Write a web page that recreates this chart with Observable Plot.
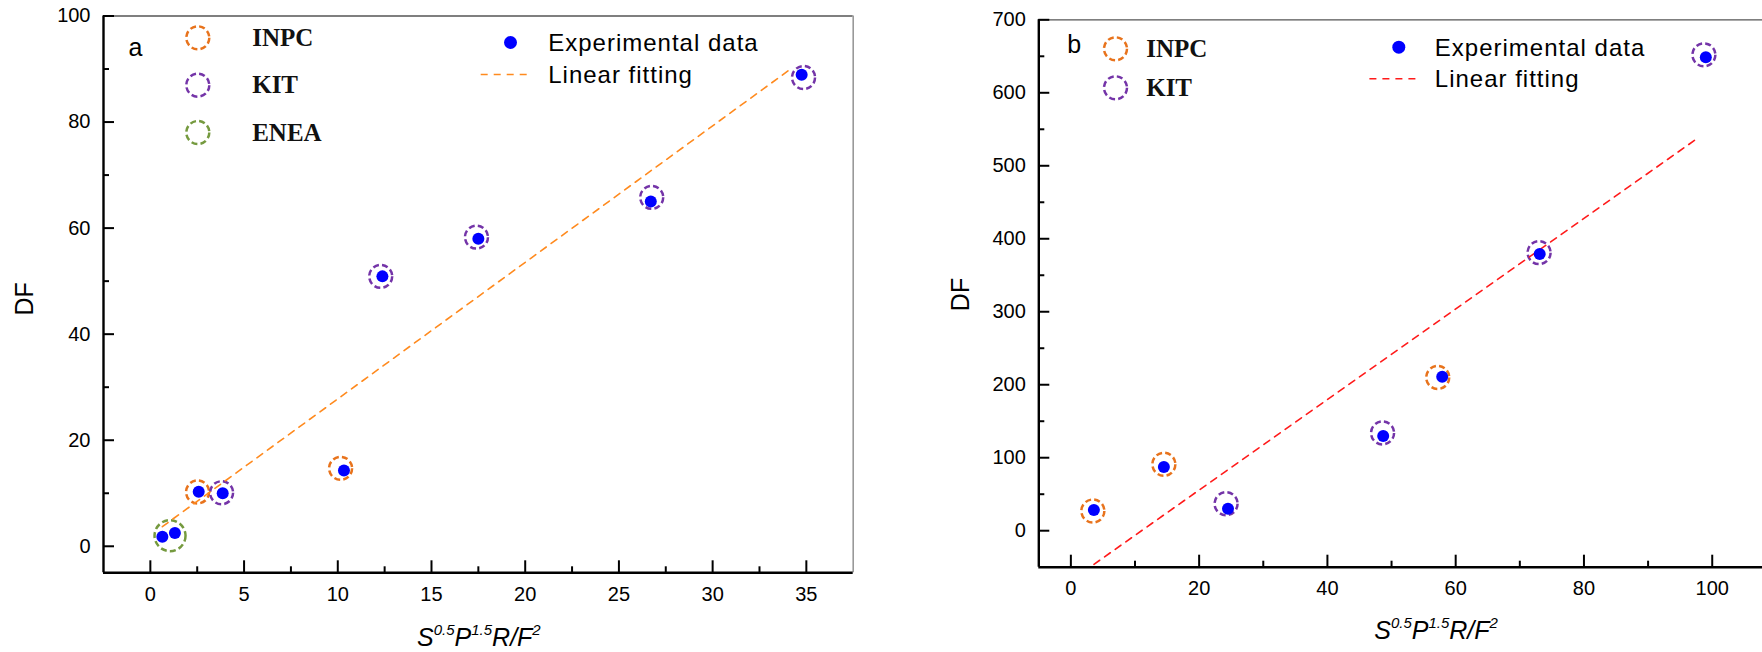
<!DOCTYPE html>
<html><head><meta charset="utf-8">
<script src="https://cdn.jsdelivr.net/npm/d3@7"></script>
<script src="https://cdn.jsdelivr.net/npm/@observablehq/plot@0.6"></script>
<style>
html,body{margin:0;padding:0;background:#fff;overflow:hidden;}
#wrap{position:relative;width:1762px;height:652px;overflow:hidden;background:#fff;}
.panel{position:absolute;top:0;}
.panel svg{max-width:none !important;}
</style></head><body>
<div id="wrap"><div id="pa" class="panel" style="left:0px;width:880px"></div><div id="pb" class="panel" style="left:880px;width:970px"></div></div>
<script>
// ---------- Panel a data ----------
const aExpX = [0.64, 1.31, 2.58, 3.86, 10.33, 12.38, 17.5, 26.7, 34.75];
const aExpY = [1.8, 2.5, 10.3, 10.0, 14.3, 50.9, 58.0, 65.0, 88.9];
const aRingLab = ["ENEA", "INPC", "KIT", "INPC", "KIT", "KIT", "KIT", "KIT"];
const aRingX = [1.05, 2.52, 3.8, 10.15, 12.29, 17.4, 26.75, 34.85];
const aRingY = [2.0, 10.25, 10.1, 14.7, 50.9, 58.3, 65.8, 88.4];
const aFitX = [0.64, 34.2];
const aFitY = [3.7, 90.1];
const aXTicks = [0, 5, 10, 15, 20, 25, 30, 35];
const aXMinor = [2.5, 7.5, 12.5, 17.5, 22.5, 27.5, 32.5];
const aYTicks = [0, 20, 40, 60, 80, 100];
const aYMinor = [10, 30, 50, 70, 90];
const aXDomain = [-2.5, 37.5];
const aYDomain = [-5, 100];
const aLegendLabs = ["INPC", "KIT", "ENEA"];

// ---------- Panel b data ----------
const bExpX = [3.59, 14.5, 24.5, 48.7, 57.9, 73.1, 99.0];
const bExpY = [28.4, 87.4, 30.2, 129.9, 210.8, 379.1, 648.8];
const bRingLab = ["INPC", "INPC", "KIT", "KIT", "INPC", "KIT", "KIT"];
const bRingX = [3.43, 14.5, 24.2, 48.6, 57.2, 73.0, 98.7];
const bRingY = [27, 91, 37, 134, 210, 381, 652];
const bFitX = [3.6, 97.6];
const bFitY = [-46, 537];
const bXTicks = [0, 20, 40, 60, 80, 100];
const bXMinor = [10, 30, 50, 70, 90];
const bYTicks = [0, 100, 200, 300, 400, 500, 600, 700];
const bYMinor = [50, 150, 250, 350, 450, 550, 650];
const bXDomain = [-5, 120];
const bYDomain = [-50, 700];
const bLegendLabs = ["INPC", "KIT"];

// ---------- shared text ----------
const yTitle = "DF";
const expLabel = "Experimental data";
const fitLabel = "Linear fitting";
const xLabelKey = "S0.5P1.5R/F2";
const xLabelParts = [["S", false], ["0.5", true], ["P", false], ["1.5", true], ["R/F", false], ["2", true]];

// ---------- styles ----------
const labColor = {INPC: "#E8731C", KIT: "#7434A8", ENEA: "#759A3F"};
const labRadius = {INPC: 11.5, KIT: 11.5, ENEA: 15.5};
const ringDash = "6,3.2";
const lineSym = {draw(ctx) { ctx.moveTo(-24, 0); ctx.lineTo(24, 0); }};

function panel(p) {
  const H = 652;
  const plotH = H - p.mt - p.mb, plotW = p.width - p.ml - p.mr;
  const exp = p.expX.map((x, i) => ({x, y: p.expY[i]}));
  const rings = p.ringX.map((x, i) => ({x, y: p.ringY[i], lab: p.ringLab[i]}));
  const fit = p.fitX.map((x, i) => ({x, y: p.fitY[i]}));
  const labs = Array.from(new Set(p.ringLab));
  const L = p.leg;
  const marks = [
    Plot.ruleY([p.yDomain[1]], {stroke: "#555", strokeWidth: 1.3}),
    p.rightFrame ? Plot.ruleX([p.xDomain[1]], {stroke: "#999", strokeWidth: 1.6}) : null,
    Plot.ruleX(p.xTicks, {insetTop: plotH - 12, stroke: "#000", strokeWidth: 2}),
    Plot.ruleX(p.xMinor, {insetTop: plotH - 6, stroke: "#000", strokeWidth: 2}),
    Plot.ruleY(p.yTicks, {insetRight: plotW - 11, stroke: "#000", strokeWidth: 2}),
    Plot.ruleY(p.yMinor, {insetRight: plotW - 6, stroke: "#000", strokeWidth: 2}),
    Plot.ruleX([p.xDomain[0]], {stroke: "#000", strokeWidth: 2.4}),
    Plot.ruleY([p.yDomain[0]], {stroke: "#000", strokeWidth: 2.4}),
    Plot.axisX({ticks: p.xTicks, tickSize: 0, tickPadding: 14, label: null, fontSize: 20, fill: "#000"}),
    Plot.axisY({ticks: p.yTicks, tickSize: 0, tickPadding: 13, label: null, fontSize: 20, fill: "#000"}),
    ...labs.map(lab => Plot.dot(rings.filter(d => d.lab === lab), {
      x: "x", y: "y", r: labRadius[lab], stroke: labColor[lab], fill: "none",
      strokeWidth: 2.5, strokeDasharray: ringDash})),
    Plot.line(fit, {x: "x", y: "y", stroke: p.fitColor, strokeWidth: 1.6, strokeDasharray: "7,6"}),
    Plot.dot(exp, {x: "x", y: "y", r: 6, fill: "#0000FF", stroke: "none"}),
    // axis titles
    Plot.text([yTitle], {frameAnchor: "left", dx: p.dfDx, dy: p.dfDy, rotate: -90, fontSize: 25,
      textAnchor: "middle", lineAnchor: "middle", fill: "#000"}),
    Plot.text([xLabelKey], {frameAnchor: "bottom", dx: p.xlDx, dy: p.xlDy, fontSize: 25, fontStyle: "italic",
      textAnchor: "middle", lineAnchor: "bottom", fill: "#000"}),
    // panel letter
    Plot.text([p.letter], {frameAnchor: "top-left", dx: L.letterDx, dy: L.letterDy, fontSize: 25,
      textAnchor: "start", lineAnchor: "middle", fill: "#000"}),
    // ring legend
    ...p.legendLabs.flatMap((lab, i) => [
      Plot.dot([lab], {frameAnchor: "top-left", dx: L.ringDx, dy: L.ringDy0 + i * L.ringStep, r: 11.5,
        stroke: labColor[lab], fill: "none", strokeWidth: 2.5, strokeDasharray: ringDash}),
      Plot.text([lab], {frameAnchor: "top-left", dx: L.ringTextDx, dy: L.ringDy0 + i * L.ringStep,
        fontFamily: "Liberation Serif", fontWeight: "bold", fontSize: 25, textAnchor: "start",
        lineAnchor: "middle", fill: "#111"})
    ]),
    // data/fit legend
    Plot.dot([expLabel], {frameAnchor: "top-left", dx: L.expDx, dy: L.expDy, r: 6.5, fill: "#0000FF", stroke: "none"}),
    Plot.text([expLabel], {frameAnchor: "top-left", dx: L.textDx, dy: L.expTextDy, fontSize: 24,
      textAnchor: "start", lineAnchor: "middle", fill: "#000"}),
    Plot.dot([fitLabel], {frameAnchor: "top-left", dx: L.lineDx, dy: L.lineDy, symbol: lineSym,
      stroke: p.fitColor, fill: "none", strokeWidth: 1.6, strokeDasharray: "7,6"}),
    Plot.text([fitLabel], {frameAnchor: "top-left", dx: L.textDx, dy: L.lineTextDy, fontSize: 24,
      textAnchor: "start", lineAnchor: "middle", fill: "#000"})
  ].filter(Boolean);

  const svg = Plot.plot({
    width: p.width, height: H,
    marginLeft: p.ml, marginRight: p.mr, marginTop: p.mt, marginBottom: p.mb,
    x: {domain: p.xDomain, axis: null},
    y: {domain: p.yDomain, axis: null},
    style: {fontFamily: "'Liberation Sans', Arial, sans-serif", fontSize: "20px", background: "#fff", color: "#000", overflow: "visible", maxWidth: "none"},
    marks
  });
  const s = d3.select(svg);
  s.style("max-width", "none").attr("width", p.width).attr("height", H).style("height", H + "px");
  s.selectAll("text").filter(function() { return this.textContent === expLabel || this.textContent === fitLabel; })
    .attr("letter-spacing", "1px");
  s.selectAll("text").filter(function() { return this.textContent === xLabelKey; }).each(function() {
    const t = d3.select(this);
    t.text(null);
    let up = false;
    for (const [str, sup] of xLabelParts) {
      const ts = t.append("tspan").text(str);
      if (sup) { ts.attr("font-size", 15); if (!up) { ts.attr("dy", -11); up = true; } }
      else if (up) { ts.attr("dy", 11); up = false; }
    }
  });
  return svg;
}

document.getElementById("pa").appendChild(panel({
  width: 880, ml: 103, mr: 27.3, mt: 15.5, mb: 79.7,
  xDomain: aXDomain, yDomain: aYDomain, xTicks: aXTicks, xMinor: aXMinor, yTicks: aYTicks, yMinor: aYMinor,
  expX: aExpX, expY: aExpY, ringX: aRingX, ringY: aRingY, ringLab: aRingLab, fitX: aFitX, fitY: aFitY,
  fitColor: "#FF8A1E", rightFrame: true, letter: "a", legendLabs: aLegendLabs,
  dfDx: -79, dfDy: 4.5, xlDx: 0.5, xlDy: 72.7,
  leg: {letterDx: 25, letterDy: 31.8, ringDx: 94.3, ringDy0: 21.8, ringStep: 47.35, ringTextDx: 148.7,
        expDx: 407, expDy: 26.5, textDx: 444.7, expTextDy: 27.3, lineDx: 401.2, lineDy: 58.5, lineTextDy: 59}
}));

document.getElementById("pb").appendChild(panel({
  width: 970, ml: 158.3, mr: 10, mt: 19.3, mb: 85.3,
  xDomain: bXDomain, yDomain: bYDomain, xTicks: bXTicks, xMinor: bXMinor, yTicks: bYTicks, yMinor: bYMinor,
  expX: bExpX, expY: bExpY, ringX: bRingX, ringY: bRingY, ringLab: bRingLab, fitX: bFitX, fitY: bFitY,
  fitColor: "#FF1A1A", rightFrame: true, letter: "b", legendLabs: bLegendLabs,
  dfDx: -77.5, dfDy: 1, xlDx: -3.6, xlDy: 71.3,
  leg: {letterDx: 28.4, letterDy: 24.7, ringDx: 76.7, ringDy0: 29, ringStep: 39, ringTextDx: 107.4,
        expDx: 360, expDy: 27.4, textDx: 396, expTextDy: 28.3, lineDx: 354.6, lineDy: 59, lineTextDy: 59.9}
}));
</script>
</body></html>
